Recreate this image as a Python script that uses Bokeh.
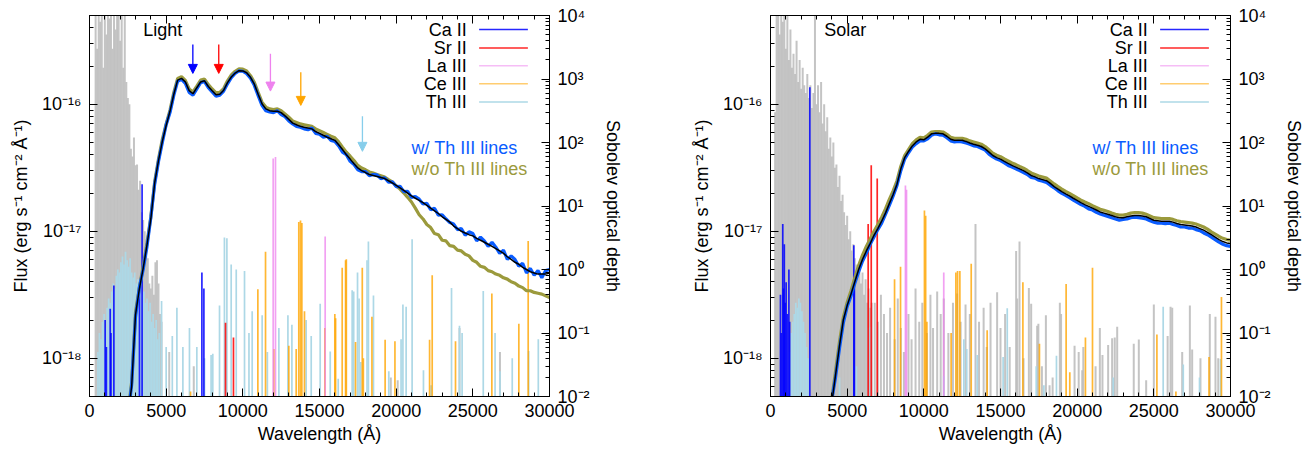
from math import log10
from bokeh.plotting import figure
from bokeh.layouts import row
from bokeh.models import (Range1d, LogAxis, LinearAxis, LogScale, FixedTicker, SingleIntervalTicker,
                          CustomJSTickFormatter, Arrow, NormalHead, ColumnDataSource)
from bokeh.core.properties import value
from bokeh.embed import file_html
from bokeh.resources import INLINE

FONT = "Liberation Sans"
FLUX_MIN, FLUX_MAX = 5e-19, 5e-16
TAU_MIN, TAU_MAX = 1e-2, 1e4

# ---------------- spectra (flux in units of 1e-17 erg/s/cm2/A) ----------------
light_wl = list(range(2500, 30001, 250))
light_smooth = [
    0.035, 0.06, 0.22, 0.35, 0.51, 0.78, 1.25, 2.4,
    3.6, 5.1, 6.8, 8.8, 12.0, 15.5, 16.0, 15.0,
    12.8, 12.1, 13.5, 15.0, 15.3, 13.8,
    12.8, 11.9, 12.0, 12.9, 14.8, 16.4, 17.6, 18.4,
    18.3, 17.7, 16.3, 14.4, 12.0, 10.1, 9.2, 8.9,
    8.8, 8.8, 8.6, 8.1, 7.6, 7.1, 6.9, 6.7,
    6.6, 6.5, 6.4, 6.1, 5.9, 5.7, 5.5, 5.35,
    5.2, 4.8, 4.4, 4.0, 3.7, 3.4, 3.15, 3.0,
    2.9, 2.8, 2.75, 2.7, 2.65, 2.6, 2.5, 2.4,
    2.3, 2.2, 2.1, 2.0, 1.9, 1.82, 1.75, 1.68,
    1.6, 1.52, 1.45, 1.38, 1.3, 1.24, 1.18, 1.1,
    1.05, 1.0, 0.97, 0.94, 0.92, 0.88, 0.85, 0.82,
    0.79, 0.76, 0.73, 0.7, 0.67, 0.63, 0.6, 0.57,
    0.55, 0.52, 0.5, 0.48, 0.47, 0.46, 0.46, 0.46,
    0.47]
light_with_th = [
    0.034, 0.062, 0.21, 0.36, 0.5, 0.76, 1.28, 2.35,
    3.55, 5.0, 6.9, 8.6, 11.8, 15.2, 15.7, 14.6,
    12.4, 11.8, 13.2, 14.8, 15.1, 13.5,
    12.5, 11.6, 11.8, 12.7, 14.5, 16.2, 17.5, 18.3,
    18.2, 17.4, 16.0, 14.1, 11.7, 9.8, 8.9, 8.7,
    8.6, 8.9, 8.3, 8.0, 7.4, 7.0, 6.7, 6.6,
    6.4, 6.3, 6.5, 5.9, 5.8, 5.5, 5.6, 5.2,
    5.1, 4.7, 4.2, 4.0, 3.55, 3.35, 3.05, 2.95,
    2.95, 2.74, 2.8, 2.78, 2.6, 2.64, 2.44, 2.45,
    2.25, 2.26, 2.05, 2.06, 1.85, 1.88, 1.79, 1.64,
    1.66, 1.48, 1.52, 1.34, 1.35, 1.25, 1.17, 1.14,
    1.03, 1.05, 0.93, 0.99, 0.96, 0.84, 0.9, 0.84,
    0.76, 0.82, 0.75, 0.67, 0.71, 0.6, 0.64, 0.6,
    0.53, 0.56, 0.47, 0.51, 0.45, 0.49, 0.43, 0.49,
    0.5]
light_without_th = [
    0.037, 0.065, 0.23, 0.36, 0.53, 0.81, 1.3, 2.45,
    3.7, 5.3, 7.0, 9.0, 12.4, 16.0, 16.5, 15.4,
    13.2, 12.5, 13.9, 15.5, 15.8, 14.3,
    13.2, 12.3, 12.4, 13.3, 15.3, 17.0, 18.2, 19.0,
    18.9, 18.3, 16.8, 14.9, 12.4, 10.4, 9.5, 9.2,
    9.1, 9.2, 8.9, 8.4, 7.9, 7.4, 7.2, 7.0,
    6.9, 6.8, 6.7, 6.4, 6.2, 6.0, 5.8, 5.6,
    5.45, 5.05, 4.6, 4.2, 3.9, 3.6, 3.3, 3.15,
    3.05, 2.93, 2.87, 2.8, 2.74, 2.67, 2.55, 2.45,
    2.28, 2.15, 2.0, 1.85, 1.7, 1.52, 1.35, 1.25,
    1.13, 1.07, 0.96, 0.94, 0.85, 0.84, 0.77, 0.76,
    0.71, 0.7, 0.66, 0.64, 0.59, 0.57, 0.53, 0.52,
    0.49, 0.48, 0.46, 0.45, 0.43, 0.42, 0.4, 0.39,
    0.37, 0.36, 0.34, 0.34, 0.33, 0.325, 0.32, 0.31,
    0.3]

solar_wl = list(range(3750, 30001, 250))
solar_smooth = [
    0.03, 0.045, 0.075, 0.125, 0.2, 0.26, 0.32, 0.4,
    0.5, 0.6, 0.7, 0.8, 0.93, 1.05, 1.2, 1.39,
    1.65, 1.95, 2.35, 3.1, 3.8, 4.25, 4.7, 5.05,
    5.3, 5.25, 5.5, 5.85, 5.9, 5.9, 5.85, 5.6,
    5.3, 5.2, 5.2, 5.2, 5.1, 4.95, 4.85, 4.75,
    4.65, 4.45, 4.2, 3.95, 3.8, 3.7, 3.55, 3.42,
    3.3, 3.2, 3.1, 3.0, 2.88, 2.75, 2.68, 2.6,
    2.55, 2.5, 2.38, 2.25, 2.15, 2.05, 1.97, 1.9,
    1.82, 1.75, 1.68, 1.62, 1.57, 1.52, 1.47, 1.42,
    1.39, 1.36, 1.33, 1.3, 1.28, 1.28, 1.3, 1.32,
    1.33, 1.33, 1.32, 1.3, 1.26, 1.22, 1.21, 1.2,
    1.2, 1.2, 1.18, 1.15, 1.13, 1.12, 1.11, 1.1,
    1.08, 1.05, 1.02, 0.98, 0.94, 0.9, 0.86, 0.83,
    0.81, 0.8]
solar_with_th = [
    0.029, 0.047, 0.072, 0.12, 0.19, 0.255, 0.31, 0.39,
    0.48, 0.58, 0.67, 0.79, 0.9, 1.03, 1.16, 1.36,
    1.6, 1.9, 2.3, 3.0, 3.7, 4.15, 4.6, 4.9,
    5.15, 5.15, 5.35, 5.7, 5.85, 5.75, 5.7, 5.45,
    5.15, 5.05, 5.1, 5.05, 4.95, 4.85, 4.7, 4.65,
    4.5, 4.35, 4.05, 3.85, 3.7, 3.6, 3.45, 3.3,
    3.2, 3.1, 3.0, 2.9, 2.8, 2.65, 2.62, 2.52,
    2.48, 2.42, 2.3, 2.2, 2.08, 1.99, 1.92, 1.84,
    1.76, 1.69, 1.62, 1.57, 1.5, 1.47, 1.41, 1.37,
    1.34, 1.31, 1.28, 1.25, 1.22, 1.24, 1.25, 1.28,
    1.29, 1.28, 1.27, 1.25, 1.21, 1.18, 1.16, 1.16,
    1.15, 1.16, 1.13, 1.11, 1.08, 1.08, 1.06, 1.06,
    1.03, 1.01, 0.97, 0.94, 0.9, 0.86, 0.82, 0.79,
    0.77, 0.76]
solar_without_th = [
    0.032, 0.048, 0.08, 0.135, 0.21, 0.275, 0.34, 0.43,
    0.54, 0.65, 0.76, 0.87, 1.0, 1.13, 1.29, 1.5,
    1.78, 2.08, 2.5, 3.25, 3.95, 4.4, 4.9, 5.25,
    5.5, 5.45, 5.7, 6.05, 6.1, 6.1, 6.05, 5.8,
    5.5, 5.4, 5.4, 5.4, 5.3, 5.15, 5.05, 4.95,
    4.85, 4.65, 4.38, 4.12, 3.97, 3.87, 3.71, 3.58,
    3.45, 3.35, 3.24, 3.14, 3.01, 2.88, 2.8, 2.72,
    2.67, 2.62, 2.49, 2.36, 2.25, 2.15, 2.06, 1.99,
    1.91, 1.83, 1.76, 1.7, 1.65, 1.59, 1.54, 1.49,
    1.46, 1.43, 1.39, 1.36, 1.34, 1.34, 1.36, 1.39,
    1.4, 1.4, 1.39, 1.36, 1.32, 1.28, 1.27, 1.26,
    1.26, 1.26, 1.24, 1.21, 1.19, 1.18, 1.17, 1.16,
    1.14, 1.11, 1.08, 1.04, 0.99, 0.95, 0.91, 0.88,
    0.86, 0.85]

# ---------------- Sobolev optical depths of lines ----------------
light_grey_wl = [400, 500, 600, 700, 800, 900, 1000, 1100, 1200, 1300, 1400, 1500, 1600, 1700, 1800,
                 1900, 2000, 2100, 2200, 2300, 2400, 2500, 2600, 2700, 2800, 2900, 3000, 3100, 3200,
                 3300, 3400, 3500, 3600, 3700, 3800, 3900, 4000, 4100, 4200, 4300, 4400, 4500, 4600,
                 4700, 5200, 6800, 19650, 20100, 24130, 26770]
light_grey_tau = [2e4, 3000, 2e4, 8000, 2e4, 1500, 2e4, 5000, 2e4, 9000, 2e4, 3000, 2e4, 6000, 2e4,
                  2e4, 4000, 2e4, 1500, 2e4, 900, 500, 400, 80, 60, 120, 44, 45, 18,
                  25, 8, 6, 4, 3, 1.5, 0.6, 0.5, 0.8, 0.4, 1.3, 1.4, 0.6, 0.2,
                  0.15, 0.05, 0.03, 0.02, 0.018, 0.12, 0.05]
light_th_wl = [550, 650, 750, 850, 950, 1050, 1150, 1250, 1350, 1450, 1550, 1650, 1750, 1850, 1950,
               2050, 2150, 2250, 2350, 2450, 2550, 2650, 2750, 2850, 2950, 3050, 3150, 3250, 3350,
               3450, 3550, 3650, 3750, 3850, 3950, 4050, 4150, 4250, 4350, 4450, 4550,
               4700, 5000, 5400, 5700, 6090, 6520, 7000, 7500, 7930, 8040, 8480, 8800, 8960, 9240,
               9570, 10110, 10400, 10610, 11260, 11600, 12350, 12940, 13200, 14130, 14460, 15045,
               15700, 16220, 17130, 17230, 17480, 17580, 17690, 18100, 18190, 18520, 19520, 20320,
               20440, 20650, 21040, 21780, 22280, 23610, 24130, 24300, 25680, 26450, 26770, 27570,
               28640, 29270]
light_th_tau = [0.05, 0.1, 0.08, 0.15, 0.2, 0.12, 0.25, 0.35, 0.3, 0.45, 0.6, 0.5, 0.8, 1.0, 0.9,
                1.3, 1.6, 1.2, 1.9, 1.4, 1.1, 1.5, 0.9, 0.75, 0.9, 0.6, 0.7, 0.5, 0.55,
                0.4, 0.45, 0.3, 0.35, 0.22, 0.3, 0.15, 0.2, 0.12, 0.16, 0.08, 0.1,
                0.32, 0.06, 0.09, 0.25, 0.06, 0.12, 0.06, 0.04, 0.045, 0.047, 0.27, 3.2, 3.1, 1.2,
                1.0, 0.95, 0.1, 0.22, 0.19, 0.05, 0.12, 0.19, 0.135, 0.16, 0.09, 0.29,
                0.051, 0.019, 0.47, 0.45, 0.9, 0.35, 0.035, 1.4, 2.75, 0.39, 0.025, 0.08,
                0.28, 0.26, 3.0, 0.026, 0.015, 0.51, 0.13, 0.1, 0.46, 0.1, 0.025, 0.04,
                0.052, 0.08]
light_ce_wl = [6590, 10980, 11480, 12020, 13000, 13480, 13650, 13760, 13850, 14020, 15350, 16000, 16050,
               16480, 16700, 16750, 17350, 17790, 17860, 18420, 19280, 19920, 22180, 22350, 23870,
               26240, 28000, 28610]
light_ce_tau = [0.012, 0.49, 1.9, 0.056, 0.063, 0.056, 5.6, 5.9, 5.4, 0.22, 0.12, 0.2, 0.17,
                1.07, 1.4, 1.45, 0.072, 1.07, 0.04, 0.18, 0.078, 0.074, 0.078, 0.81, 0.074,
                0.42, 0.14, 2.8]
light_la_wl = [11980, 12130, 15370]
light_la_tau = [56, 59, 3.3]
light_sr_wl = [8870, 9390]
light_sr_tau = [0.145, 0.085]
light_ca_wl = [1020, 1100, 1350, 1400, 1590, 3260, 3430, 7330, 7460]
light_ca_tau = [0.16, 0.06, 0.24, 0.1, 0.56, 0.56, 22, 0.9, 0.5]

solar_grey_wl = [300, 400, 500, 600, 700, 800, 900, 1000, 1100, 1200, 1300, 1400, 1500, 1600, 1700,
                 1800, 1900, 2000, 2100, 2200, 2300, 2400, 2500, 2600, 2700, 2800, 2900, 3000, 3100,
                 3200, 3300, 3400, 3500, 3600, 3700, 3800, 3900, 4000, 4100, 4200, 4300, 4400, 4500,
                 4600, 4700, 4800, 4900, 5000, 5100, 5200, 5300, 5400, 5500, 5600, 5700, 5800, 5900,
                 6000, 6100, 6200, 6300, 6400, 6500, 6600,
                 6800, 7000, 7200, 7400, 7600, 7800, 8100, 8300, 8500, 8700, 9000, 9200, 9460, 9700,
                 9900, 10200, 10430, 10600, 10870, 11100, 11300, 11600, 11900, 12170, 12400, 12720,
                 13000, 13370, 13600, 13900, 14100, 14350, 14780, 15000, 15300, 15600, 16020, 16090,
                 16240, 16500, 16850, 17000, 17390, 17470, 17700, 17960, 18200, 18400, 18870, 18950,
                 19830, 20100, 20330, 20400, 21200, 21480, 21650, 22020, 22280, 22450, 22610, 23690,
                 24020, 24500, 25000, 25900, 26090, 26200, 26850, 27350, 27500, 28040, 28650, 29020,
                 29200]
solar_grey_tau = [300, 2e4, 2e4, 5000, 2e4, 8000, 2e4, 3000, 1e4, 2000, 6000, 1500, 2500, 1200, 4000,
                  900, 2000, 700, 1500, 800, 600, 1200, 500, 800, 350, 600, 2e4, 400, 800,
                  300, 900, 200, 400, 150, 250, 80, 120, 60, 100, 40, 45, 20, 30,
                  12, 15, 8, 5, 7, 3, 4, 2, 2.5, 1.5, 1.2, 0.8, 1.1, 0.6,
                  0.9, 0.4, 0.7, 0.3, 0.5, 0.25, 0.3,
                  0.3, 0.15, 0.4, 0.2, 0.1, 0.25, 0.08, 0.35, 0.12, 0.05, 0.2, 0.08, 0.5, 0.15,
                  0.3, 0.1, 0.4, 0.12, 0.45, 0.2, 0.35, 0.1, 0.3, 0.42, 0.15, 0.28,
                  0.2, 5.2, 0.15, 0.25, 0.06, 0.3, 0.44, 0.12, 0.2, 0.06, 1.95, 0.35,
                  2.75, 0.04, 0.51, 0.29, 0.13, 0.14, 0.03, 0.19, 0.015, 0.02, 0.3, 0.2,
                  0.063, 0.05, 0.026, 0.06, 0.03, 0.12, 0.045, 0.065, 0.083, 0.085, 0.126, 0.068,
                  0.079, 0.018, 0.28, 0.09, 0.26, 0.25, 0.05, 0.27, 0.055, 0.04, 0.2, 0.18,
                  0.04]
solar_th_wl = [1250, 1350, 1450, 1550, 1650, 1750, 1850, 1950, 2050, 2150, 2250, 2350, 2450,
               4500, 5600, 6390, 6520, 11300, 12610, 12800, 13480, 15170, 15440, 17330, 17830,
               18650, 22350, 25610, 26920, 27980, 29350]
solar_th_tau = [0.05, 0.1, 0.15, 0.2, 0.3, 0.25, 0.35, 0.3, 0.22, 0.15, 0.1, 0.06, 0.04,
                0.02, 0.03, 0.12, 0.125, 0.021, 0.08, 0.056, 0.045, 0.042, 0.245, 0.03, 0.015,
                0.044, 0.02, 0.26, 0.032, 0.02, 0.039]
solar_ce_wl = [8090, 8480, 10040, 10120, 10200, 11780, 12090, 12200, 12350, 13090, 14130, 16460,
               17540, 19280, 19520, 20540, 21000, 25200, 26440, 28600, 29410]
solar_ce_tau = [0.7, 1.1, 8.5, 7.0, 0.15, 0.1, 0.9, 0.95, 0.95, 1.23, 0.11, 0.63,
                0.068, 0.59, 0.024, 0.085, 1.07, 0.095, 0.012, 0.042, 0.37]
solar_la_wl = [8800, 8870, 11300]
solar_la_tau = [21, 18, 0.9]
solar_sr_wl = [6370, 6570, 6960]
solar_sr_tau = [5.2, 44, 27]
solar_ca_wl = [650, 700, 800, 850, 900, 950, 1020, 1100, 1200, 1250, 2565, 5435, 5470]
solar_ca_tau = [0.4, 0.1, 5.2, 0.5, 2.5, 0.3, 0.63, 0.2, 1.0, 0.15, 740, 2.4, 0.6]

# arrows marking line features (left panel): wavelength, arrow top, arrow tip (flux, 1e-17)
arrow_wl = [6740, 8430, 11800, 13780, 17800]
arrow_top = [29.6, 29.6, 25.0, 17.9, 8.05]
arrow_tip = [17.5, 17.5, 12.7, 9.8, 4.26]

species = ["Ca II", "Sr II", "La III", "Ce III", "Th III"]
species_colors = ["#0000ff", "#ff0000", "#ee82ee", "#ffa500", "#add8e6"]
species_alpha = [0.85, 0.85, 0.75, 0.8, 1.0]
GREY = "#bebebe"
BLUE = "#0a5cff"
OLIVE = "#9b9a3c"

for a, b in [(light_wl, light_smooth), (light_wl, light_with_th), (light_wl, light_without_th),
             (solar_wl, solar_smooth), (solar_wl, solar_with_th), (solar_wl, solar_without_th),
             (light_grey_wl, light_grey_tau), (light_th_wl, light_th_tau), (light_ce_wl, light_ce_tau),
             (solar_grey_wl, solar_grey_tau), (solar_th_wl, solar_th_tau), (solar_ce_wl, solar_ce_tau),
             (solar_ca_wl, solar_ca_tau), (light_ca_wl, light_ca_tau)]:
    assert len(a) == len(b), (len(a), len(b))

SUP_JS = """
const e = Math.round(Math.log10(tick));
const sup = {'-':'\u207b','0':'\u2070','1':'\u00b9','2':'\u00b2','3':'\u00b3','4':'\u2074',
             '5':'\u2075','6':'\u2076','7':'\u2077','8':'\u2078','9':'\u2079'};
return '10' + String(e).split('').map(c => sup[c]).join('');
"""


def fx(f):
    return f * 30000.0


def fy(f):
    return 10 ** (log10(FLUX_MIN) + f * (log10(FLUX_MAX) - log10(FLUX_MIN)))


def style_axis(ax):
    ax.major_tick_in = 8
    ax.major_tick_out = 0
    ax.minor_tick_in = 4
    ax.minor_tick_out = 0
    ax.axis_line_color = "black"
    ax.major_tick_line_color = "black"
    ax.minor_tick_line_color = "black"
    ax.major_label_text_font = FONT
    ax.major_label_text_font_size = "18px"
    ax.major_label_text_color = "black"
    ax.axis_label_text_font = FONT
    ax.axis_label_text_font_size = "18px"
    ax.axis_label_text_font_style = "normal"
    ax.axis_label_text_color = "black"


def spikes(p, wl, tau, color, alpha, width=1.7):
    src = ColumnDataSource(dict(x=wl, top=tau, base=[TAU_MIN] * len(wl)))
    p.segment(x0="x", y0="base", x1="x", y1="top", source=src, y_range_name="tau",
              line_color=color, line_alpha=alpha, line_width=width)


def make_panel(title, wl, smooth, with_th, without_th, lines, border_left, border_right, arrows=None):
    p = figure(frame_width=460, frame_height=381, x_range=Range1d(0, 30000),
               y_range=Range1d(FLUX_MIN, FLUX_MAX), y_axis_type="log",
               output_backend="svg", toolbar_location=None,
               min_border_left=border_left, min_border_right=border_right,
               min_border_top=15, min_border_bottom=55)
    p.extra_y_ranges = {"tau": Range1d(TAU_MIN, TAU_MAX)}
    p.extra_y_scales = {"tau": LogScale()}
    p.grid.visible = False
    p.outline_line_color = "black"
    p.outline_line_width = 1
    p.background_fill_color = "white"
    p.border_fill_color = "white"

    # bottom axis
    xa = p.xaxis[0]
    xa.ticker = SingleIntervalTicker(interval=5000, num_minor_ticks=5)
    xa.axis_label = "Wavelength (\u00c5)"
    style_axis(xa)
    xa.major_label_standoff = 7
    xa.axis_label_standoff = 4

    # left axis
    ya = p.yaxis[0]
    ya.ticker = FixedTicker(ticks=[1e-18, 1e-17, 1e-16],
                            minor_ticks=[m * 10.0 ** e for e in (-19, -18, -17, -16) for m in range(2, 10)])
    ya.formatter = CustomJSTickFormatter(code=SUP_JS)
    ya.axis_label = "Flux (erg s\u207b\u00b9 cm\u207b\u00b2 \u00c5\u207b\u00b9)"
    style_axis(ya)
    ya.major_label_standoff = 8
    ya.axis_label_standoff = 8

    # right axis
    ta = LogAxis(y_range_name="tau")
    ta.ticker = FixedTicker(ticks=[1e-2, 1e-1, 1e0, 1e1, 1e2, 1e3, 1e4],
                            minor_ticks=[m * 10.0 ** e for e in range(-2, 4) for m in range(2, 10)])
    ta.formatter = CustomJSTickFormatter(code=SUP_JS)
    ta.axis_label = "Sobolev optical depth"
    style_axis(ta)
    ta.major_label_standoff = 8
    ta.axis_label_standoff = 10
    p.add_layout(ta, "right")

    # top mirror ticks
    top = LinearAxis(ticker=SingleIntervalTicker(interval=5000, num_minor_ticks=5),
                     formatter=CustomJSTickFormatter(code="return ''"))
    style_axis(top)
    top.major_label_text_font_size = "0px"
    top.major_label_standoff = 0
    p.add_layout(top, "above")

    # lines (optical depth spikes)
    grey_wl, grey_tau = lines["grey"]
    spikes(p, grey_wl, grey_tau, GREY, 0.9, width=2.0)
    for i in [4, 3, 2, 1, 0]:
        w, t = lines[species[i]]
        spikes(p, w, t, species_colors[i], species_alpha[i])

    # spectra
    p.line(wl, [v * 1e-17 for v in without_th], line_color=OLIVE, line_width=3.2)
    p.line(wl, [v * 1e-17 for v in with_th], line_color=BLUE, line_width=3.2)
    p.line(wl, [v * 1e-17 for v in smooth], line_color="black", line_width=1.5)

    if arrows is not None:
        for w, t0, t1, c in zip(arrow_wl, arrow_top, arrow_tip,
                                ["#0000ff", "#ff0000", "#ee82ee", "#ffa500", "#87ceeb"]):
            p.add_layout(Arrow(x_start=w, y_start=t0 * 1e-17, x_end=w, y_end=t1 * 1e-17,
                               line_color=c, line_width=1.3,
                               end=NormalHead(size=9, fill_color=c, line_color=c)))

    # panel title
    p.text(x=[fx(0.117)], y=[fy(0.961)], text=[title], text_font=value(FONT),
           text_font_size="18px", text_align="left", text_baseline="middle", text_color="black")

    # legend (label right, line sample on the right)
    rows_y = [0.963, 0.915, 0.868, 0.821, 0.773]
    p.text(x=[fx(0.82)] * 5, y=[fy(f) for f in rows_y], text=species, text_font=value(FONT),
           text_font_size="18px", text_align="right", text_baseline="middle", text_color="black")
    for f, c, a in zip(rows_y, species_colors, species_alpha):
        p.segment(x0=[fx(0.847)], x1=[fx(0.953)], y0=[fy(f)], y1=[fy(f)],
                  line_color=c, line_alpha=a * (0.7 if c in ("#ee82ee", "#ffa500") else 1),
                  line_width=1.5)

    p.text(x=[fx(0.70)], y=[fy(0.651)], text=["w/  Th III lines"], text_font=value(FONT),
           text_font_size="18px", text_align="left", text_baseline="middle", text_color=BLUE)
    p.text(x=[fx(0.70)], y=[fy(0.598)], text=["w/o Th III lines"], text_font=value(FONT),
           text_font_size="18px", text_align="left", text_baseline="middle", text_color=OLIVE)
    return p


light_lines = {"grey": (light_grey_wl, light_grey_tau),
               "Ca II": (light_ca_wl, light_ca_tau), "Sr II": (light_sr_wl, light_sr_tau),
               "La III": (light_la_wl, light_la_tau), "Ce III": (light_ce_wl, light_ce_tau),
               "Th III": (light_th_wl, light_th_tau)}
solar_lines = {"grey": (solar_grey_wl, solar_grey_tau),
               "Ca II": (solar_ca_wl, solar_ca_tau), "Sr II": (solar_sr_wl, solar_sr_tau),
               "La III": (solar_la_wl, solar_la_tau), "Ce III": (solar_ce_wl, solar_ce_tau),
               "Th III": (solar_th_wl, solar_th_tau)}

p1 = make_panel("Light", light_wl, light_smooth, light_with_th, light_without_th, light_lines, 89, 139,
                arrows=True)
p2 = make_panel("Solar", solar_wl, solar_smooth, solar_with_th, solar_without_th, solar_lines, 81, 80)

layout = row(p1, p2)
open("out.html", "w").write(file_html(layout, INLINE))
